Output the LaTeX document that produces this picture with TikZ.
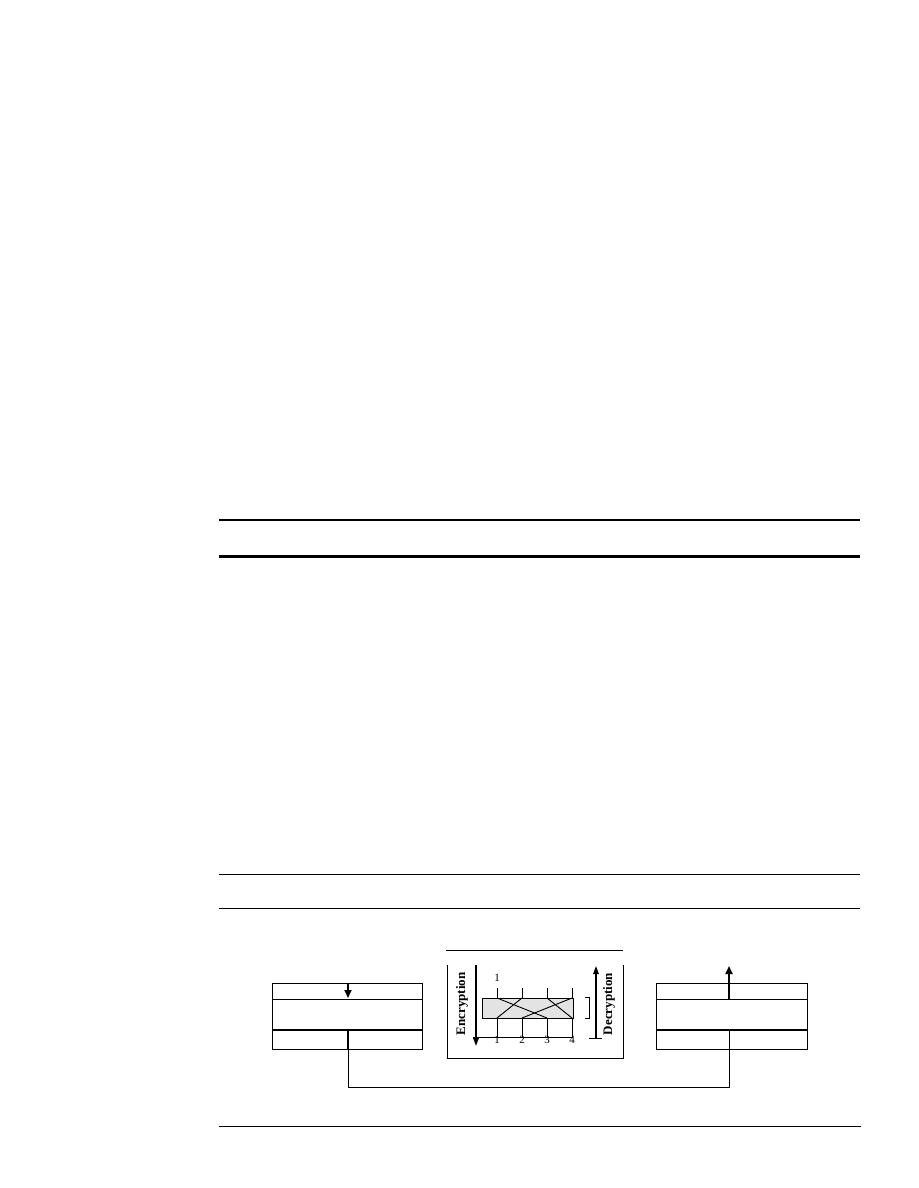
\documentclass[tikz,border=0pt]{standalone}
\usepackage{fontspec}
\setmainfont{Liberation Serif}
\usetikzlibrary{arrows.meta}
\begin{document}
\begin{tikzpicture}[x=1pt,y=-1pt,
  thinline/.style={line width=1pt},
  boxshape/.style={draw, line width=1pt, minimum width=150pt, minimum height=66pt, inner sep=0pt, anchor=north west},
  heavyline/.style={line width=2.6pt},
  flowarrow/.style={line width=1.8pt, -{Triangle[length=8pt,width=7pt]}},
  axisarrow/.style={line width=1.4pt, -{Triangle[length=8pt,width=5.5pt]}},
  axislabel/.style={font=\bfseries\fontsize{13}{13}\selectfont, rotate=90},
  digit/.style={font=\fontsize{11}{11}\selectfont, inner sep=0pt}
]
\useasboundingbox (0,0) rectangle (918,1188);
\fill[white] (0,0) rectangle (918,1188);

% horizontal rules
\draw[line width=2pt] (219,520) -- (860,520);
\draw[line width=3pt] (219,556.5) -- (860,556.5);
\draw[thinline] (219,874) -- (860,874);
\draw[thinline] (219,908) -- (860,908);
\draw[thinline] (219,1126) -- (861,1126);

% left box
\node[boxshape] (lbox) at (272,983) {};
\draw[thinline] (lbox.north west |- 0,999) -- (lbox.north east |- 0,999);
\draw[heavyline] (lbox.north west |- 0,1030) -- (lbox.north east |- 0,1030);
\coordinate (ldtop) at (348,1030);
\coordinate (ld) at (348,1049);
\draw[line width=2pt] (ldtop) -- (ld);
\coordinate (lain) at (348,983);
\coordinate (laout) at (348,998);
\draw[flowarrow] (lain) -- (laout);

% right box
\node[boxshape, minimum width=151pt] (rbox) at (656,983) {};
\draw[thinline] (rbox.north west |- 0,999) -- (rbox.north east |- 0,999);
\draw[heavyline] (rbox.north west |- 0,1030) -- (780,1030);
\draw[line width=1.5pt] (780,1030) -- (rbox.north east |- 0,1030);
\coordinate (rdtop) at (729,1030);
\coordinate (rd) at (729,1049);
\draw[thinline] (rdtop) -- (rd);
\coordinate (rtop) at (729,983);
\coordinate (rmid) at (729,999);
\draw[line width=2pt] (rtop) -- (rmid);
\coordinate (raout) at (729,966);
\draw[flowarrow] (rtop) -- (raout);

% connector between the boxes
\draw[thinline] (ld) -- (348,1087) -| (rd);

% middle panel
\draw[thinline] (446,950) -- (623,950);
\draw[thinline] (447,965) -- (447,1058) -- (623,1058) -- (623,965);

% encryption arrow and label
\coordinate (ea) at (476,965);
\coordinate (eb) at (476,1046);
\draw[axisarrow] (ea) -- (eb);
\node[axislabel] (enc) at (462,1004) {Encryption};

% axis
\draw[thinline] (473,1037) -- (573,1037);
\fill[gray!22] (482,998) rectangle (573,1018);
\draw[thinline] (482,998) rectangle (573,1018);
\foreach \x in {497,522,547,572} {
  \draw[thinline] (\x,988) -- (\x,998);
  \draw[thinline] (\x,1018) -- (\x,1037);
}
% permutation lines
\draw[line width=0.9pt] (497,998) -- (547,1018);
\draw[line width=0.9pt] (522,998) -- (497,1018);
\draw[line width=0.9pt] (547,998) -- (572,1018);
\draw[line width=0.9pt] (572,998) -- (522,1018);

\node[digit] (d0) at (497,978) {1};
\node[digit] (d1) at (497,1040) {1};
\node[digit] (d2) at (522,1040) {2};
\node[digit] (d3) at (547,1040) {3};
\node[digit] (d4) at (572,1040) {4};

% bracket
\draw[thinline] (585,997) -- (589,997) -- (589,1018) -- (585,1018);

% decryption arrow and label
\draw[thinline] (589,1038) -- (602,1038);
\coordinate (da) at (596,1038);
\coordinate (db) at (596,966);
\draw[axisarrow] (da) -- (db);
\node[axislabel] (dec) at (609,1004) {Decryption};
\end{tikzpicture}
\end{document}
